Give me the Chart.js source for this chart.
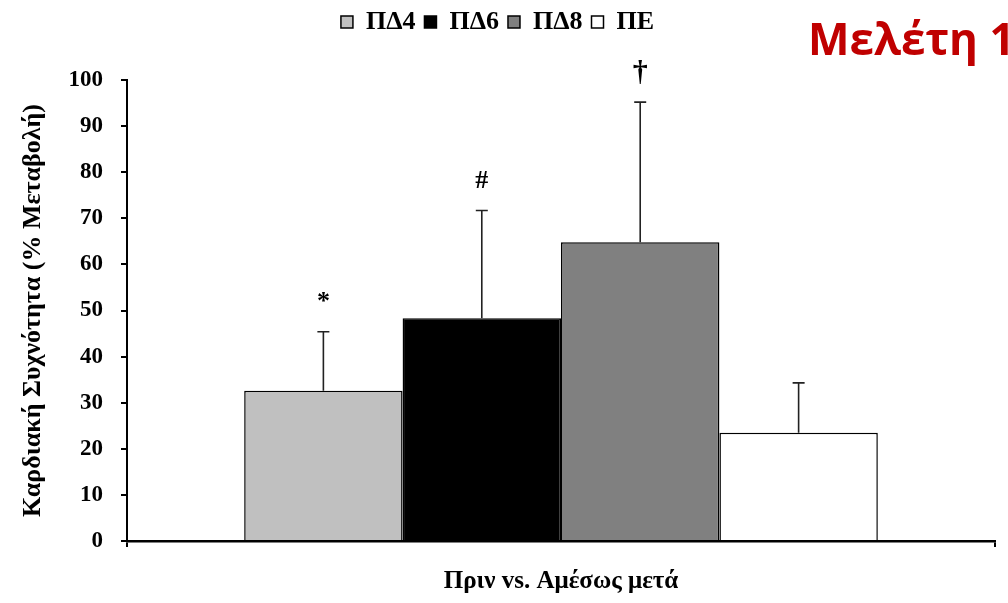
<!DOCTYPE html>
<html>
<head>
<meta charset="utf-8">
<script src="https://cdn.jsdelivr.net/npm/chart.js@4.4.1/dist/chart.umd.min.js"></script>
<style>
  html, body { margin: 0; padding: 0; background: #fff; overflow: hidden; }
  #wrap { position: relative; width: 1008px; height: 603px; overflow: hidden; }
  #study {
    position: absolute; left: 808px; top: 16px;
    font: bold 44px/1 "Open Sans", sans-serif; color: #c00000;
    white-space: nowrap;
  }
</style>
</head>
<body>
<div id="wrap">
  <canvas id="chart" width="1008" height="603"></canvas>
  <div id="study">Μελέτη 1</div>
</div>
<script>
const categories = ["Πριν vs. Αμέσως μετά"];
const groups = ["ΠΔ4", "ΠΔ6", "ΠΔ8", "ΠΕ"];
const means = [32.6, 48.3, 64.8, 23.5];
const errors = [12.8, 23.4, 30.4, 10.8];
const marks = ["*", "#", "†", ""];
const fills = ["#c0c0c0", "#000000", "#808080", "#ffffff"];
const yTicks = [0, 10, 20, 30, 40, 50, 60, 70, 80, 90, 100];

const serif = "'Liberation Serif', 'Times New Roman', serif";

// error bars + significance marks, drawn from the bar elements and the y scale
const errorBars = {
  id: "errorBars",
  afterDatasetsDraw(chart) {
    const ctx = chart.ctx;
    const y = chart.scales.y;
    ctx.save();
    ctx.strokeStyle = "#222";
    ctx.lineWidth = 1.6;
    chart.data.datasets.forEach((ds, i) => {
      const bar = chart.getDatasetMeta(i).data[0];
      const top = y.getPixelForValue(means[i] + errors[i]);
      ctx.beginPath();
      ctx.moveTo(bar.x, bar.y);
      ctx.lineTo(bar.x, top);
      ctx.moveTo(bar.x - 6, top);
      ctx.lineTo(bar.x + 6, top);
      ctx.stroke();
      if (marks[i]) {
        ctx.fillStyle = "#000";
        ctx.textAlign = "center";
        ctx.textBaseline = "middle";
        ctx.font = marks[i] === "†" ? "bold 30px " + serif : "bold 26px " + serif;
        ctx.fillText(marks[i], bar.x, top - 29);
      }
    });
    ctx.restore();
  },
};

// keep the legend band tall so the plot starts lower, as in the original
const legendSpace = {
  id: "legendSpace",
  beforeInit(chart) {
    const fit = chart.legend.fit;
    chart.legend.fit = function () {
      fit.call(this);
      this.height = 80;
    };
  },
};

new Chart(document.getElementById("chart"), {
  type: "bar",
  data: {
    labels: categories,
    datasets: groups.map((g, i) => ({
      label: g,
      data: [means[i]],
      backgroundColor: fills[i],
      borderColor: "#000",
      borderWidth: 1.5,
      borderSkipped: "bottom",
    })),
  },
  options: {
    responsive: false,
    animation: false,
    categoryPercentage: 0.73,
    barPercentage: 1,
    layout: { padding: { top: 0, right: 13, bottom: 0, left: 0 } },
    plugins: {
      tooltip: { enabled: false },
      legend: {
        position: "top",
        labels: {
          boxWidth: 12,
          boxHeight: 12,
          padding: 9,
          color: "#000",
          font: { family: serif, size: 26, weight: "bold" },
        },
      },
    },
    scales: {
      x: {
        offset: true,
        afterFit(scale) { scale.height = 62; },
        grid: {
          offset: true,
          drawOnChartArea: false,
          tickLength: 6,
          color: "#000",
          lineWidth: 2,
        },
        border: { color: "#000", width: 2.5 },
        ticks: { display: false },
        title: {
          display: true,
          text: categories[0],
          color: "#000",
          padding: { top: 0, bottom: 6 },
          font: { family: serif, size: 25, weight: "bold" },
        },
      },
      y: {
        min: 0,
        max: 100,
        afterFit(scale) { scale.width = 127; },
        afterBuildTicks(scale) { scale.ticks = yTicks.map((v) => ({ value: v })); },
        grid: {
          drawOnChartArea: false,
          tickLength: 6,
          color: "#000",
          lineWidth: 2,
        },
        border: { color: "#000", width: 2 },
        ticks: {
          color: "#000",
          padding: 18,
          font: { family: serif, size: 23, weight: "bold" },
        },
        title: {
          display: true,
          text: "Καρδιακή Συχνότητα (% Μεταβολή)",
          color: "#000",
          padding: { top: 18, bottom: 0 },
          font: { family: serif, size: 26, weight: "bold" },
        },
      },
    },
  },
  plugins: [errorBars, legendSpace],
});
</script>
</body>
</html>
